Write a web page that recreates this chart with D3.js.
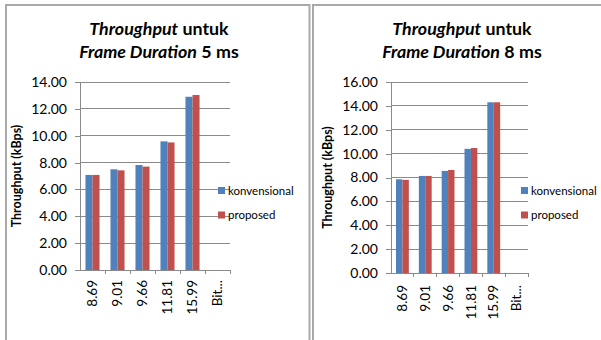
<!DOCTYPE html>
<html>
<head>
<meta charset="utf-8">
<script src="https://cdn.jsdelivr.net/npm/d3@7"></script>
<style>
  html, body { margin: 0; padding: 0; background: #fff; }
  svg { display: block; font-family: Lato, "Open Sans", sans-serif; }
</style>
</head>
<body>
<svg id="chart" width="601" height="340"></svg>
<script>
// Bit-rate categories (kbps) shared by both charts
const categories = ["8.69", "9.01", "9.66", "11.81", "15.99", "Bit..."];
const seriesNames = ["konvensional", "proposed"];

// Throughput (kBps), frame duration 5 ms
const konvensional5 = [7.08, 7.50, 7.82, 9.58, 12.90, null];
const proposed5     = [7.08, 7.42, 7.70, 9.50, 13.03, null];
const yTicks5 = [0, 2, 4, 6, 8, 10, 12, 14];

// Throughput (kBps), frame duration 8 ms
const konvensional8 = [7.85, 8.13, 8.55, 10.40, 14.30, null];
const proposed8     = [7.80, 8.13, 8.63, 10.47, 14.30, null];
const yTicks8 = [0, 2, 4, 6, 8, 10, 12, 14, 16];

const titleDurations = ["5 ms", "8 ms"];

const colors = { konvensional: "#4F81BD", proposed: "#C0504D" };
const gridColor = "#8a8a8a";

const svg = d3.select("#chart");

const panels = [
  {
    box: { x0: 6, x1: 309.5, y0: 5 },
    plot: { left: 80, right: 230, top: 82, bottom: 270 },
    ticks: yTicks5, series: [konvensional5, proposed5],
    duration: titleDurations[0], titleX: 159, yTitleX: 17,
    legendX: 218, xLabelGap: 10
  },
  {
    box: { x0: 313, x1: 602, y0: 5 },
    plot: { left: 391, right: 528, top: 82, bottom: 273 },
    ticks: yTicks8, series: [konvensional8, proposed8],
    duration: titleDurations[1], titleX: 462, yTitleX: 328,
    legendX: 521, xLabelGap: 12
  }
];

// widest title line is sized to this width
const titleWidth = 160;

panels.forEach(p => {
  const g = svg.append("g");

  // chart frame
  g.append("path")
    .attr("d", `M${p.box.x0},345 V${p.box.y0} H${p.box.x1} V345`)
    .attr("fill", "none").attr("stroke", "#a9a9a9").attr("stroke-width", 2);

  // title (two lines, italic parts as in the source)
  const title = g.append("text")
    .attr("text-anchor", "middle")
    .attr("font-weight", "bold").attr("font-size", 15).attr("fill", "#000");
  const l1 = title.append("tspan").attr("x", p.titleX).attr("y", 35);
  l1.append("tspan").attr("font-style", "italic").text("Throughput");
  l1.append("tspan").text(" untuk");
  const l2 = title.append("tspan").attr("x", p.titleX).attr("y", 58);
  l2.append("tspan").attr("font-style", "italic").text("Frame Duration");
  l2.append("tspan").text(" " + p.duration);
  const w = title.node().getBBox().width;
  if (w > 0) title.attr("font-size", Math.min(19, 15 * titleWidth / w));

  const yMax = p.ticks[p.ticks.length - 1];
  const y = d3.scaleLinear().domain([0, yMax]).range([p.plot.bottom, p.plot.top]);
  const x = d3.scaleBand().domain(categories).range([p.plot.left, p.plot.right]).padding(0);
  const xs = d3.scaleBand().domain(seriesNames).range([0, x.bandwidth()])
    .paddingInner(0).paddingOuter(0.78);

  // horizontal gridlines
  g.append("g").selectAll("line").data(p.ticks.filter(t => t > 0)).join("line")
    .attr("x1", p.plot.left).attr("x2", p.plot.right)
    .attr("y1", d => y(d)).attr("y2", d => y(d))
    .attr("stroke", gridColor).attr("stroke-width", 1)
    .attr("shape-rendering", "crispEdges");

  // y axis with outward ticks
  const yAxis = d3.axisLeft(y).tickValues(p.ticks).tickFormat(d3.format(".2f"))
    .tickSize(5).tickPadding(8);
  const ya = g.append("g").attr("transform", `translate(${p.plot.left},0)`).call(yAxis);
  ya.select(".domain").attr("stroke", gridColor).attr("d", `M-5,${p.plot.top}H0V${p.plot.bottom}`)
    .attr("shape-rendering", "crispEdges");
  ya.selectAll(".tick line").attr("stroke", gridColor).attr("shape-rendering", "crispEdges");
  ya.selectAll(".tick text").attr("font-size", 14).attr("fill", "#000")
    .attr("font-family", "Lato, sans-serif");

  // y axis title
  g.append("text")
    .attr("transform", `translate(${p.yTitleX},${(p.plot.top + p.plot.bottom) / 2}) rotate(-90)`)
    .attr("text-anchor", "middle").attr("dy", "0.35em")
    .attr("font-weight", "bold").attr("font-size", 12.5).attr("fill", "#000")
    .text("Throughput (kBps)");

  // bars
  seriesNames.forEach((name, si) => {
    const vals = p.series[si];
    g.append("g").selectAll("rect")
      .data(categories.map((c, i) => ({ c, v: vals[i] })).filter(d => d.v != null))
      .join("rect")
      .attr("x", d => x(d.c) + xs(name))
      .attr("width", xs.bandwidth())
      .attr("y", d => y(d.v))
      .attr("height", d => y(0) - y(d.v))
      .attr("fill", colors[name]);
  });

  // x axis line and category ticks
  const xa = g.append("g").attr("transform", `translate(0,${p.plot.bottom})`);
  xa.append("line").attr("x1", p.plot.left - 5).attr("x2", p.plot.right)
    .attr("stroke", gridColor).attr("shape-rendering", "crispEdges");
  xa.selectAll(".ctick").data(categories).join("line").attr("class", "ctick")
    .attr("x1", d => x(d) + x.bandwidth()).attr("x2", d => x(d) + x.bandwidth())
    .attr("y1", 0).attr("y2", 4)
    .attr("stroke", gridColor).attr("shape-rendering", "crispEdges");
  xa.selectAll("text").data(categories).join("text")
    .attr("transform", d => `translate(${x(d) + x.bandwidth() / 2},${p.xLabelGap}) rotate(-90)`)
    .attr("text-anchor", "end").attr("dy", "0.35em")
    .attr("font-size", 13.5).attr("fill", "#000")
    .text(d => d);

  // legend
  const lg = g.append("g");
  seriesNames.forEach((name, i) => {
    const cy = 190.5 + i * 24.5;
    lg.append("rect").attr("x", p.legendX).attr("y", cy - 3.5)
      .attr("width", 7).attr("height", 7).attr("fill", colors[name]);
    lg.append("text").attr("x", p.legendX + 10).attr("y", cy).attr("dy", "0.35em")
      .attr("font-size", 11.5).attr("fill", "#000").text(name);
  });
});
</script>
</body>
</html>
